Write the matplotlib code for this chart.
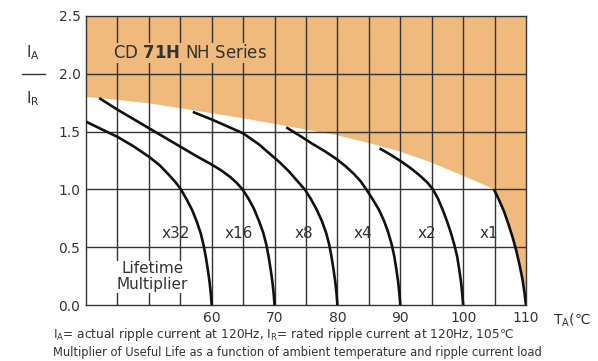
import matplotlib.pyplot as plt

# temperature (degC) and IA/IR points
x32_t = [40.0, 42.5, 45.0, 47.5, 50.0, 51.7, 53.2, 54.2, 55.1, 56.0, 56.9, 57.6, 58.25, 58.7, 59.05, 59.4, 59.68, 59.87, 60.0]
x32_y = [1.586, 1.52, 1.455, 1.375, 1.283, 1.21, 1.125, 1.065, 1.0, 0.915, 0.82, 0.725, 0.62, 0.52, 0.42, 0.30, 0.19, 0.09, 0.0]
x16_t = [42.1, 45.0, 47.5, 50.0, 52.5, 55.0, 57.5, 60.0, 61.5, 63.0, 64.0, 64.9, 65.8, 66.7, 67.5, 68.2, 68.7, 69.05, 69.4, 69.68, 69.87, 70.0]
x16_y = [1.79, 1.69, 1.61, 1.53, 1.45, 1.37, 1.29, 1.215, 1.165, 1.105, 1.055, 1.0, 0.925, 0.835, 0.73, 0.625, 0.52, 0.42, 0.30, 0.19, 0.09, 0.0]
x8_t = [57.0, 60.0, 62.5, 65.0, 67.5, 69.2, 70.8, 72.3, 73.5, 74.8, 75.8, 76.7, 77.5, 78.2, 78.7, 79.05, 79.4, 79.68, 79.87, 80.0]
x8_y = [1.67, 1.605, 1.545, 1.485, 1.39, 1.31, 1.235, 1.155, 1.08, 1.0, 0.915, 0.825, 0.73, 0.625, 0.52, 0.42, 0.30, 0.19, 0.09, 0.0]
x4_t = [71.85, 74.0, 76.0, 78.0, 79.8, 81.3, 82.6, 83.7, 84.6, 85.6, 86.6, 87.4, 88.1, 88.65, 89.05, 89.4, 89.68, 89.87, 90.0]
x4_y = [1.537, 1.465, 1.395, 1.33, 1.265, 1.2, 1.135, 1.07, 1.0, 0.915, 0.825, 0.73, 0.625, 0.52, 0.42, 0.30, 0.19, 0.09, 0.0]
x2_t = [86.7, 88.3, 89.8, 91.5, 93.0, 94.3, 95.2, 96.0, 96.7, 97.4, 98.05, 98.6, 99.05, 99.4, 99.68, 99.87, 100.0]
x2_y = [1.355, 1.305, 1.254, 1.19, 1.125, 1.06, 1.0, 0.92, 0.83, 0.73, 0.625, 0.52, 0.42, 0.30, 0.19, 0.09, 0.0]
x1_t = [104.9, 105.7, 106.5, 107.2, 107.9, 108.5, 109.0, 109.45, 109.75, 110.0]
x1_y = [1.0, 0.91, 0.81, 0.70, 0.58, 0.46, 0.34, 0.22, 0.11, 0.0]

curves = [(x32_t, x32_y), (x16_t, x16_y), (x8_t, x8_y), (x4_t, x4_y), (x2_t, x2_y), (x1_t, x1_y)]
labels = ["x32", "x16", "x8", "x4", "x2", "x1"]
label_t = [54.3, 64.3, 74.6, 84.0, 94.3, 104.1]
label_y = 0.62

# upper edge of the allowed (white) area
edge_t = [40, 45, 50, 56.5, 65, 71.9, 79.8, 85.1, 89.8, 94.6, 99.9, 102.5, 104.9]
edge_y = [1.80, 1.775, 1.745, 1.69, 1.615, 1.548, 1.47, 1.40, 1.33, 1.24, 1.12, 1.06, 1.00]

orange = "#F0BA7C"
ink = "#333333"

fig = plt.figure(figsize=(5.98, 3.61), dpi=100)
ax = fig.add_axes([0.1438, 0.1551, 0.7358, 0.8006])
ax.set_xlim(40, 110)
ax.set_ylim(0, 2.5)

# orange region: above the edge and right of the x1 curve
poly_t = edge_t + x1_t[1:] + [110, 110, 40]
poly_y = edge_y + x1_y[1:] + [0, 2.5, 2.5]
ax.fill(poly_t, poly_y, color=orange, lw=0, zorder=0)

for t in range(45, 110, 5):
    ax.axvline(t, color=ink, lw=1.0, zorder=1)
for v in [0.5, 1.0, 1.5, 2.0]:
    ax.axhline(v, color=ink, lw=1.0, zorder=1)

for t, y in curves:
    ax.plot(t, y, color="#111111", lw=1.9, zorder=3, solid_capstyle="butt", solid_joinstyle="round")

for lab, t in zip(labels, label_t):
    ax.text(t, label_y, lab, ha="center", va="center", fontsize=11, color=ink, zorder=4)

ax.text(50.6, 0.245, "Lifetime\nMultiplier", ha="center", va="center", fontsize=11,
        color=ink, linespacing=1.05, zorder=4,
        bbox=dict(facecolor="white", edgecolor="none", pad=0.5))

ax.text(56.5, 2.18, "CD $\\mathbf{71H}$ NH Series", ha="center", va="center", fontsize=12,
        color=ink, zorder=4, bbox=dict(facecolor=orange, edgecolor="none", pad=1))

for s in ax.spines.values():
    s.set_color(ink)
    s.set_linewidth(1.0)

ax.set_xticks([60, 70, 80, 90, 100, 110])
ax.set_yticks([0.0, 0.5, 1.0, 1.5, 2.0, 2.5])
ax.set_yticklabels(["0.0", "0.5", "1.0", "1.5", "2.0", "2.5"])
ax.tick_params(length=0, labelsize=10, labelcolor=ink, pad=4)

fig.text(0.055, 0.853, "$\\mathregular{I_A}$", ha="center", va="center", fontsize=11, color=ink)
fig.lines.append(plt.Line2D([0.036, 0.075], [0.795, 0.795], transform=fig.transFigure,
                            color=ink, lw=1.0))
fig.text(0.055, 0.728, "$\\mathregular{I_R}$", ha="center", va="center", fontsize=11, color=ink)
fig.text(0.925, 0.114, "$\\mathregular{T_A}$(℃", ha="left", va="center", fontsize=10, color=ink)

fig.text(0.089, 0.073, "$\\mathregular{I_A}$= actual ripple current at 120Hz, $\\mathregular{I_R}$= rated ripple current at 120Hz, 105℃",
         ha="left", va="center", fontsize=8.7, color=ink)
fig.text(0.089, 0.024, "Multiplier of Useful Life as a function of ambient temperature and ripple current load",
         ha="left", va="center", fontsize=8.3, color=ink)

fig.savefig("out.png", dpi=100)
